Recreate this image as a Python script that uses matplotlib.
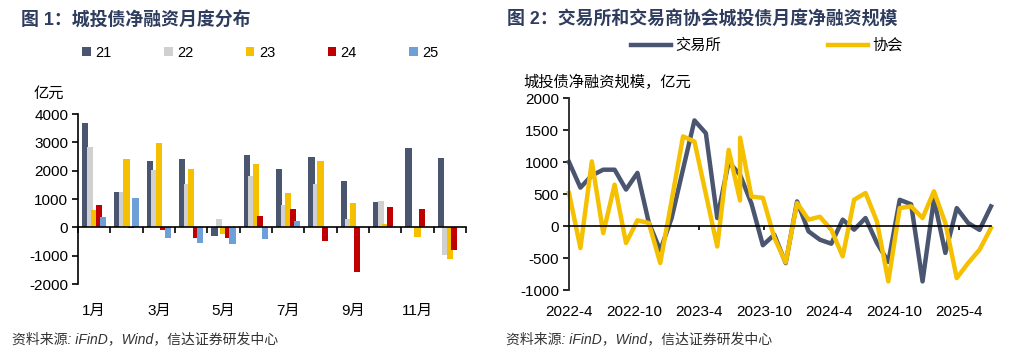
import numpy as np
import matplotlib
matplotlib.use("Agg")
import matplotlib.pyplot as plt

plt.rcParams['font.family'] = ['Liberation Sans', 'Noto Sans CJK SC']
plt.rcParams['axes.unicode_minus'] = False

# 图1 数据：各年份城投债月度净融资（亿元）
months = [f"{m}月" for m in range(1, 13)]
years = ["21", "22", "23", "24", "25"]
nf_21 = [3700, 1235, 2330, 2400, -306, 2550, 2047, 2482, 1624, 906, 2788, 2460]
nf_22 = [2820, 1235, 2024, 1530, 282, 1820, 790, 1541, 306, 930, 0, -965]
nf_23 = [610, 2400, 2990, 2047, -235, 2235, 1212, 2353, 847, 118, -330, -1130]
nf_24 = [790, -35, -94, -365, -388, 400, 635, -470, -1576, 706, 647, -800]
nf_25 = [376, 1047, -388, -540, -576, -424, 235, np.nan, np.nan, np.nan, np.nan, np.nan]

# 图2 数据：交易所 / 协会 月度净融资规模（亿元）
date_labels = ["2022-4", "2022-10", "2023-4", "2023-10", "2024-4", "2024-10", "2025-4"]
exchange = [1000, 600, 790, 880, 880, 570, 830, 50, -380, 125, 890, 1650, 1450, 125,
            1000, 800, 350, -300, -135, -580, 385, -83, -214, -276, 100, -57, 125,
            -265, -560, 410, 340, -865, 420, -420, 280, 47, -60, 307]
nafmii = [516, -344, 1010, -110, 646, -266, 89, 47, -578, 400, 1400, 1320, 500, -320,
          1190, 1380, 460, 440, -180, -570, 360, 100, 145, -57, -474, 411, 516,
          73, -865, 281, 307, 125, 542, 47, -813, -578, -370, -31]
# 协会序列在第 15 期有两条记录（先 400 后 1380）
nafmii_dup_period = 15
nafmii_dup_value = 400

navy = "#4A5670"
bar_colors = [navy, "#D0D0D0", "#F5C000", "#C00000", "#6F9FD8"]
title_color = "#2E3C5E"

fig = plt.figure(figsize=(10.17, 3.63), dpi=100)

# ---------- 图1 ----------
ax1 = fig.add_axes([0.0767, 0.2176, 0.3815, 0.4683])
x = np.arange(len(months))
offsets = (np.arange(5) - 2) * 0.14
for k, vals in enumerate([nf_21, nf_22, nf_23, nf_24, nf_25]):
    ax1.bar(x + offsets[k], vals, 0.19, color=bar_colors[k], label=years[k], linewidth=0)

ax1.set_xlim(-0.5, 11.5)
ax1.set_ylim(-2000, 4000)
ax1.set_yticks(range(-2000, 4001, 1000))
for s in ("top", "right"):
    ax1.spines[s].set_visible(False)
ax1.spines["bottom"].set_position(("data", 0))
for s in ("bottom", "left"):
    ax1.spines[s].set_linewidth(1.2)
    ax1.spines[s].set_color("black")
ax1.set_xticks(x[::2], months[::2])
ax1.set_xticks(np.arange(-0.5, 12, 1), minor=True)
ax1.tick_params(axis="x", which="major", length=0, pad=55, labelsize=11)
ax1.tick_params(axis="x", which="minor", length=4, width=1.2, direction="out")
ax1.tick_params(axis="y", length=4, width=1.2, labelsize=11, pad=3)

ax1.legend(loc="center", bbox_to_anchor=(0.256, 0.854), bbox_transform=fig.transFigure,
           ncol=5, frameon=False, fontsize=10.5, handlelength=0.6, handleheight=0.6,
           handletextpad=0.3, columnspacing=3.6)

fig.text(0.033, 0.741, "亿元", fontsize=11, va="center")
fig.text(0.021, 0.945, "图 1：城投债净融资月度分布", fontsize=12.9, weight="bold",
         color=title_color, va="center")

# ---------- 图2 ----------
ax2 = fig.add_axes([0.5595, 0.201, 0.4149, 0.529])
idx = np.arange(len(exchange))
idx_y = np.insert(idx, nafmii_dup_period, nafmii_dup_period)
vals_y = np.insert(np.array(nafmii, dtype=float), nafmii_dup_period, nafmii_dup_value)
ax2.plot(idx, exchange, color=navy, lw=3.2, label="交易所", clip_on=False)
ax2.plot(idx_y, vals_y, color="#F5C000", lw=3.2, label="协会", clip_on=False)

ax2.set_xlim(0, len(exchange) - 1)
ax2.set_ylim(-1000, 2000)
ax2.set_yticks(range(-1000, 2001, 500))
for s in ("top", "right"):
    ax2.spines[s].set_visible(False)
ax2.spines["bottom"].set_position(("data", 0))
ax2.spines["bottom"].set_color("black")
ax2.spines["bottom"].set_linewidth(1.2)
ax2.spines["left"].set_color("#333333")
ax2.spines["left"].set_linewidth(1.4)
ax2.set_xticks(np.arange(len(date_labels)) * 5.7, date_labels)
ax2.tick_params(axis="x", length=3, width=1.2, direction="out", pad=54, labelsize=11)
ax2.tick_params(axis="y", length=4, width=1.2, labelsize=11, pad=3)

ax2.legend(loc="center", bbox_to_anchor=(0.754, 0.873), bbox_transform=fig.transFigure,
           ncol=2, frameon=False, fontsize=11, handlelength=2.6, handletextpad=0.3,
           columnspacing=7)

fig.text(0.515, 0.773, "城投债净融资规模，亿元", fontsize=11, va="center")
fig.text(0.499, 0.945, "图 2：交易所和交易商协会城投债月度净融资规模", fontsize=12.9,
         weight="bold", color=title_color, va="center")

# 资料来源
src = "资料来源: iFinD，Wind，信达证券研发中心"
fig.text(0.012, 0.066, src, fontsize=10, style="italic", color="#333333", va="center")
fig.text(0.498, 0.066, src, fontsize=10, style="italic", color="#333333", va="center")

fig.savefig("out.png", dpi=100)
